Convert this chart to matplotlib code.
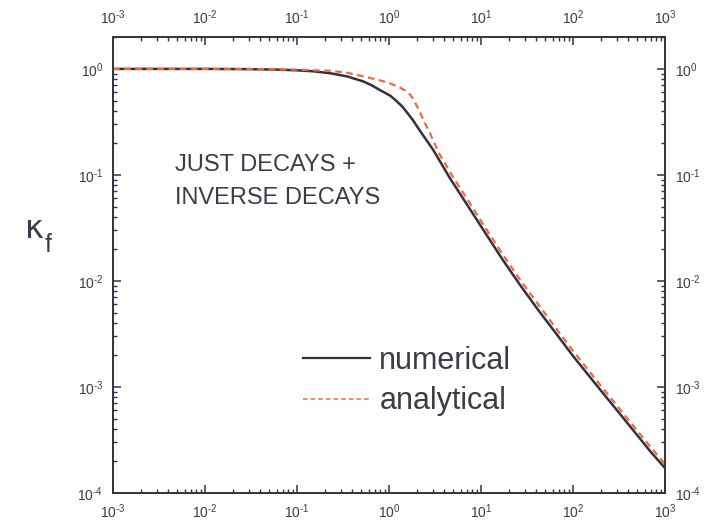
import math
import matplotlib
matplotlib.use("Agg")
import matplotlib.pyplot as plt
from matplotlib.lines import Line2D
from matplotlib.ticker import LogLocator, FuncFormatter, NullFormatter

plt.rcParams['font.family'] = ['Liberation Sans', 'DejaVu Sans']
plt.rcParams['mathtext.fontset'] = 'custom'
plt.rcParams['mathtext.rm'] = 'Liberation Sans'
plt.rcParams['mathtext.it'] = 'Liberation Sans'
plt.rcParams['mathtext.default'] = 'regular'

# final efficiency factor vs z, numerical solution
z_num = [1e-3, 3e-3, 1e-2, 3e-2, 0.06, 0.1, 0.15, 0.23, 0.35, 0.53, 0.65, 0.8,
         1.03, 1.2, 1.4, 1.6, 1.84, 2.0, 2.4, 3.03, 4.6, 7.0, 10.6, 17.0, 26.5,
         42.0, 70.0, 100.0, 200.0, 400.0, 700.0, 1000.0]
k_num = [1.0, 1.0, 1.0, 0.995, 0.985, 0.97, 0.95, 0.91, 0.85, 0.76, 0.70, 0.63,
         0.56, 0.50, 0.44, 0.38, 0.325, 0.29, 0.23, 0.172, 0.093, 0.053, 0.0303,
         0.0161, 0.0092, 0.0053, 0.00296, 0.00196, 9.3e-4, 4.45e-4, 2.44e-4,
         1.72e-4]

# analytical approximation
z_ana = [1e-3, 1e-2, 3e-2, 0.1, 0.23, 0.35, 0.53, 0.8, 1.03, 1.3, 1.5, 1.7,
         1.84, 2.0, 2.2, 2.4, 2.79, 3.5, 4.8, 7.0, 10.6, 17.0, 26.5, 42.0,
         70.0, 100.0, 200.0, 400.0, 700.0, 1000.0]
k_ana = [1.0, 1.0, 0.998, 0.985, 0.96, 0.92, 0.85, 0.78, 0.73, 0.67, 0.625, 0.57,
         0.52, 0.45, 0.38, 0.32, 0.247, 0.16, 0.10, 0.06, 0.034, 0.0181, 0.0103,
         0.0060, 0.0033, 0.00219, 0.00103, 4.9e-4, 2.7e-4, 1.88e-4]

labels = ["numerical", "analytical"]
annotation = ["JUST DECAYS +", "INVERSE DECAYS"]

ink = "#30333f"
orange = "#f6683a"
txt = "#3a3d48"

fig = plt.figure(figsize=(7.1, 5.2), dpi=100)
ax = fig.add_axes([113 / 710, 27 / 520, 552 / 710, 456 / 520])

ax.plot(z_num, k_num, color=ink, lw=1.8, solid_joinstyle='round')
ax.plot(z_ana, k_ana, color=orange, lw=1.6, linestyle=(0, (3, 2)))

ax.set_xscale('log')
ax.set_yscale('log')
ax.set_xlim(1e-3, 1e3)
ax.set_ylim(1e-4, 2.0)


def fmt(v, pos):
    e = int(round(math.log10(v)))
    sign = '\u2010' if e < 0 else ''
    return r'$10^{%s%d}$' % (sign, abs(e))


for axis in (ax.xaxis, ax.yaxis):
    axis.set_major_locator(LogLocator(base=10, numticks=20))
    axis.set_minor_locator(LogLocator(base=10, subs=range(2, 10), numticks=20))
    axis.set_major_formatter(FuncFormatter(fmt))
    axis.set_minor_formatter(NullFormatter())

ax.tick_params(which='both', direction='in', top=True, right=True,
               labeltop=True, labelright=True, color=ink, labelcolor=txt,
               labelsize=10)
ax.tick_params(which='major', length=6, width=1.1, pad=7)
ax.tick_params(which='minor', length=3.2, width=1.0)
for s in ax.spines.values():
    s.set_color(ink)
    s.set_linewidth(1.4)

ax.text(0.112, 0.706, annotation[0], transform=ax.transAxes, fontsize=17,
        color=txt, va='baseline', ha='left')
ax.text(0.112, 0.634, annotation[1], transform=ax.transAxes, fontsize=17,
        color=txt, va='baseline', ha='left')

handles = [Line2D([], [], color=ink, lw=1.6),
           Line2D([], [], color=orange, lw=1.1, linestyle=(0, (3, 2)))]
ax.legend(handles, labels, loc='upper left', bbox_to_anchor=(0.344, 0.322),
          frameon=False, fontsize=22, handlelength=2.2, handletextpad=0.3,
          labelspacing=0.33, borderpad=0, borderaxespad=0, labelcolor=txt)

fig.text(25 / 710, 1 - 238 / 520, 'κ', fontsize=23, color=txt,
         ha='left', va='baseline', family=['DejaVu Sans'])
fig.text(45 / 710, 1 - 252 / 520, 'f', fontsize=18, color=txt,
         ha='left', va='baseline')

fig.savefig("out.png", dpi=100)
